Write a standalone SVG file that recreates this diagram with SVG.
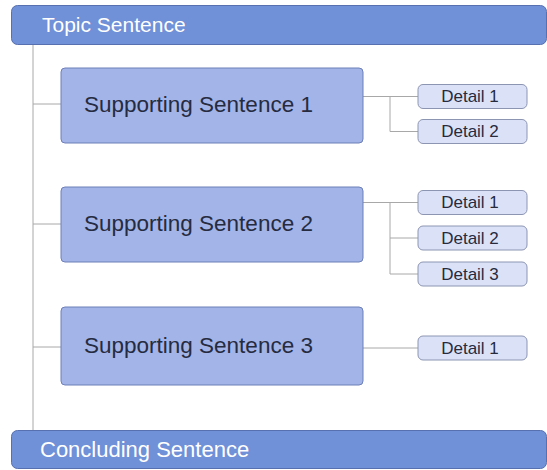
<svg xmlns="http://www.w3.org/2000/svg" width="547" height="470" viewBox="0 0 547 470">
<style>
.bar{fill:#7090d8;stroke:#5670b0;stroke-width:1}
.bart{font-family:"Liberation Sans",Arial,sans-serif;font-size:21px;fill:#ffffff}
.sup{fill:#a2b4e8;stroke:#6d80b8;stroke-width:1}
.supt{font-family:"Liberation Sans",Arial,sans-serif;font-size:22.5px;fill:#262b40}
.det{fill:#dbe2f8;stroke:#8c95b2;stroke-width:1}
.dett{font-family:"Liberation Sans",Arial,sans-serif;font-size:17px;fill:#262b40;text-anchor:middle}
.con{fill:none;stroke:#a8a8a8;stroke-width:1}
</style>
<rect width="547" height="470" fill="#ffffff"/>
<g id="connectors">
<path class="con" d="M33 45V430M33 104H61M33 224H61M33 347H61"/>
<path class="con" d="M363 96.5H418M390 96.5V131.5H418"/>
<path class="con" d="M363 202.5H418M390 202.5V274H418M390 238H418"/>
<path class="con" d="M363 348H418"/>
</g>
<g id="topic">
<rect class="bar" x="11.5" y="5.5" width="535" height="39" rx="6"/>
<text class="bart" x="42" y="32">Topic Sentence</text>
</g>
<g id="support1">
<rect class="sup" x="61" y="68" width="302" height="75" rx="4"/>
<text class="supt" x="84" y="112">Supporting Sentence 1</text>
</g>
<g id="s1d1">
<rect class="det" x="418" y="84.5" width="109" height="24" rx="5"/>
<text class="dett" x="470" y="102">Detail 1</text>
</g>
<g id="s1d2">
<rect class="det" x="418" y="119.5" width="109" height="24" rx="5"/>
<text class="dett" x="470" y="137">Detail 2</text>
</g>
<g id="support2">
<rect class="sup" x="61" y="187" width="302" height="75" rx="4"/>
<text class="supt" x="84" y="231">Supporting Sentence 2</text>
</g>
<g id="s2d1">
<rect class="det" x="418" y="190.5" width="109" height="24" rx="5"/>
<text class="dett" x="470" y="208">Detail 1</text>
</g>
<g id="s2d2">
<rect class="det" x="418" y="226" width="109" height="24" rx="5"/>
<text class="dett" x="470" y="243.5">Detail 2</text>
</g>
<g id="s2d3">
<rect class="det" x="418" y="262" width="109" height="24" rx="5"/>
<text class="dett" x="470" y="279.5">Detail 3</text>
</g>
<g id="support3">
<rect class="sup" x="61" y="307" width="302" height="78" rx="4"/>
<text class="supt" x="84" y="353">Supporting Sentence 3</text>
</g>
<g id="s3d1">
<rect class="det" x="418" y="336" width="109" height="24" rx="5"/>
<text class="dett" x="470" y="353.5">Detail 1</text>
</g>
<g id="concluding">
<rect class="bar" x="11.5" y="430.5" width="535" height="38" rx="6"/>
<text class="bart" x="40" y="457" style="font-size:22px">Concluding Sentence</text>
</g>
</svg>
